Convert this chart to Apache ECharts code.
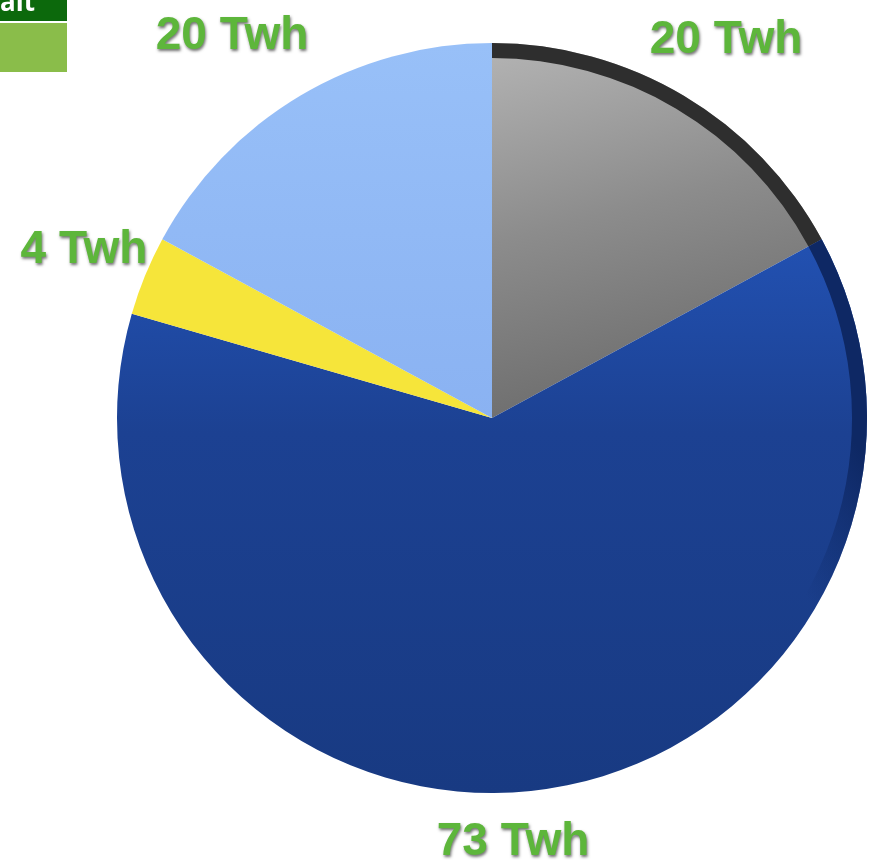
<!DOCTYPE html>
<html>
<head>
<meta charset="utf-8">
<script src="https://cdn.jsdelivr.net/npm/echarts@6/dist/echarts.min.js"></script>
<style>
html,body{margin:0;padding:0;background:#ffffff;}
#chart{width:880px;height:865px;}
</style>
</head>
<body>
<div id="chart"></div>
<script>
var categories = ['Gray', 'Dark blue', 'Yellow', 'Light blue'];
var values = [20, 73, 4, 20];
var labelTexts = ['20 Twh', '73 Twh', '4 Twh', '20 Twh'];

var sliceColors = [
  {type:'linear',x:0,y:0,x2:0.3,y2:1,colorStops:[{offset:0,color:'#b4b4b4'},{offset:0.5,color:'#8c8c8c'},{offset:1,color:'#6c6c6c'}]},
  {type:'linear',x:0,y:0,x2:0,y2:1,colorStops:[{offset:0,color:'#2251b2'},{offset:0.35,color:'#1c4192'},{offset:1,color:'#183a82'}]},
  '#f6e53a',
  {type:'linear',x:0,y:0,x2:0,y2:1,colorStops:[{offset:0,color:'#98c0f8'},{offset:1,color:'#8ab2f2'}]}
];
var bandColors = [
  '#2e2e2e',
  {type:'linear',x:0,y:1,x2:1,y2:0,colorStops:[{offset:0,color:'rgba(14,40,100,0)'},{offset:0.72,color:'rgba(14,40,100,0)'},{offset:0.86,color:'rgba(14,40,100,1)'},{offset:1,color:'rgba(14,40,100,1)'}]},
  'rgba(0,0,0,0)',
  'rgba(0,0,0,0)'
];
var labelPos = [[726, 40], [513, 842], [84, 250], [232, 36]];

var chart = echarts.init(document.getElementById('chart'));
var cx = 492, cy = 418, R = 375;

var option = {
  animation: false,
  graphic: [
    {type:'rect', shape:{x:0,y:0,width:67,height:21}, style:{fill:'#0c690c'}},
    {type:'rect', shape:{x:0,y:23,width:67,height:49}, style:{fill:'#8abd4a'}},
    {type:'text', x:0, y:-9, style:{text:'ait', fill:'#ffffff', fontSize:26, fontWeight:'bold', fontFamily:'Open Sans', verticalAlign:'top'}}
  ],
  series: [
    {
      type: 'pie',
      center: [cx, cy],
      radius: [0, R],
      startAngle: 90,
      clockwise: true,
      label: {
        show: true,
        position: 'outside',
        overflow: 'none',
        width: 300,
        formatter: function (p) { return labelTexts[p.dataIndex]; },
        color: '#5db63b',
        fontFamily: 'Liberation Sans, Arial, sans-serif',
        fontWeight: 'bold',
        fontSize: 46,
        textShadowColor: 'rgba(0,0,0,0.55)',
        textShadowBlur: 3,
        textShadowOffsetX: 1,
        textShadowOffsetY: 2
      },
      labelLine: {show: false},
      labelLayout: function (p) {
        var pos = labelPos[p.dataIndex];
        return {x: pos[0], y: pos[1], align: 'center', verticalAlign: 'middle'};
      },
      itemStyle: {borderWidth: 0},
      emphasis: {disabled: true},
      data: values.map(function (v, i) {
        return {name: categories[i], value: v, itemStyle: {color: sliceColors[i]}};
      })
    },
    {
      type: 'pie',
      center: [cx, cy],
      radius: [R - 15, R],
      startAngle: 90,
      clockwise: true,
      silent: true,
      label: {show: false},
      labelLine: {show: false},
      itemStyle: {borderWidth: 0},
      data: values.map(function (v, i) {
        return {name: categories[i], value: v, itemStyle: {color: bandColors[i]}};
      })
    }
  ]
};
chart.setOption(option);
</script>
</body>
</html>
